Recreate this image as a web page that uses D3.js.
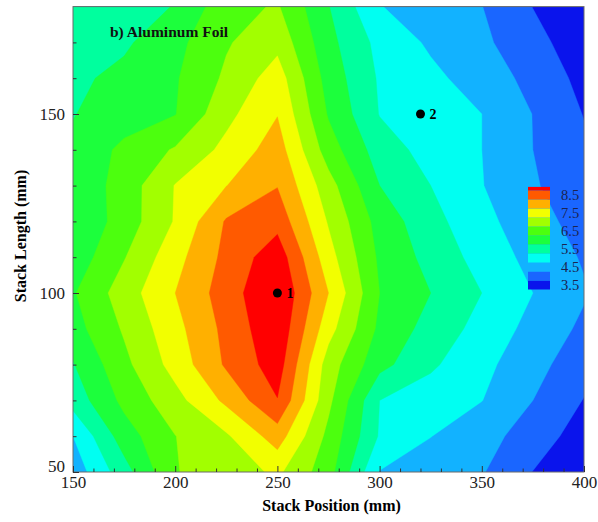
<!DOCTYPE html>
<html>
<head>
<meta charset="utf-8">
<script src="https://cdn.jsdelivr.net/npm/d3@7"></script>
<style>
  body { margin: 0; background: #fff; }
  svg { display: block; }
  text { font-family: "Liberation Serif", "Times New Roman", serif; }
</style>
</head>
<body>
<svg id="chart" width="598" height="522"></svg>
<script>
// Measurement grid: stack position (x, mm) and stack length (y, mm).
const xGrid = [150, 175, 200, 225, 250, 275, 300, 325, 350, 375, 400];
const yGrid = [50, 60, 70, 80, 90, 100, 110, 120, 130, 140, 150, 160, 170, 180];

// Values, one row per stack length in yGrid.
const heat = [
  [4.20, 5.29, 6.48, 6.70, 7.10, 6.20, 4.48, 4.25, 4.04, 3.49, 3.00], // 50
  [4.50, 5.76, 6.49, 6.93, 7.74, 6.36, 4.95, 4.51, 4.18, 3.78, 3.25], // 60
  [5.20, 6.13, 6.82, 7.61, 8.48, 6.62, 5.00, 4.75, 4.51, 4.00, 3.48], // 70
  [5.47, 6.37, 7.19, 8.07, 8.75, 6.75, 5.66, 5.08, 4.64, 4.17, 3.70], // 80
  [5.80, 6.56, 7.34, 8.14, 8.90, 7.19, 5.89, 5.31, 4.83, 4.34, 3.90], // 90
  [5.95, 6.75, 7.50, 8.25, 9.00, 7.50, 6.00, 5.50, 5.00, 4.50, 4.05], // 100
  [5.69, 6.47, 7.32, 8.14, 8.80, 7.20, 5.91, 5.33, 4.81, 4.34, 3.95], // 110
  [5.55, 6.22, 7.04, 8.05, 8.33, 6.95, 5.80, 5.17, 4.65, 4.20, 3.80], // 120
  [5.60, 6.22, 7.02, 7.49, 7.98, 6.70, 5.50, 5.00, 4.52, 4.05, 3.70], // 130
  [5.60, 6.12, 6.55, 7.14, 7.74, 6.25, 5.25, 4.81, 4.50, 4.00, 3.60], // 140
  [5.48, 5.75, 5.98, 6.86, 7.48, 5.95, 4.98, 4.74, 4.50, 3.99, 3.48], // 150
  [5.40, 5.63, 5.95, 6.59, 7.25, 5.79, 4.94, 4.62, 4.27, 3.85, 3.35], // 160
  [5.25, 5.42, 5.85, 6.45, 6.85, 5.65, 4.85, 4.42, 4.10, 3.67, 3.20], // 170
  [5.10, 5.30, 5.52, 6.32, 6.55, 5.52, 4.52, 4.25, 4.01, 3.49, 3.00]  // 180
];

// Contour levels and the colour of each band (lowest band first).
const levels = [3.5, 4.0, 4.5, 5.0, 5.5, 6.0, 6.5, 7.0, 7.5, 8.0, 8.5];
const bandColors = ["#0a14ec", "#1a66ff", "#12b2ff", "#00fff2", "#00ff9e", "#1cff3c",
                    "#4cff0e", "#a2ff00", "#f2ff00", "#ffb000", "#ff5a00", "#ff0000"];
const legendLabels = [3.5, 4.5, 5.5, 6.5, 7.5, 8.5];

// Axis ticks.
const xMajor = [150, 200, 250, 300, 350, 400];
const xMinor = [160, 170, 180, 190, 210, 220, 230, 240, 260, 270, 280, 290,
                310, 320, 330, 340, 360, 370, 380, 390];
const yMajor = [50, 100, 150];
const yMinor = [60, 70, 80, 90, 110, 120, 130, 140, 160, 170];

// Marked points.
const pointX = [250, 320];
const pointY = [100, 150];
const pointNames = ["1", "2"];

const svg = d3.select("#chart");

// Plot frame in pixels.
const plotLeft = 73, plotRight = 584, plotTop = 6.6, plotBottom = 472;

const x = d3.scaleLinear().domain([150, 400]).range([plotLeft, plotRight]);
const y = d3.scaleLinear().domain([50, 180]).range([plotBottom, plotTop]);

// d3.contours places sample i at i + 0.5, so map grid coordinates through scales.
const nx = xGrid.length, ny = yGrid.length;
const gx = d3.scaleLinear().domain([0.5, nx - 0.5]).range([x(xGrid[0]), x(xGrid[nx - 1])]);
const gy = d3.scaleLinear().domain([0.5, ny - 0.5]).range([y(yGrid[0]), y(yGrid[ny - 1])]);

const color = d3.scaleThreshold().domain(levels).range(bandColors);

const flat = heat.flat();
const contours = d3.contours().size([nx, ny]).thresholds(levels)(flat);

const proj = d3.geoTransform({
  point: function(px, py) { this.stream.point(gx(px), gy(py)); }
});
const path = d3.geoPath(proj);

svg.append("defs").append("clipPath").attr("id", "plotClip")
  .append("rect")
  .attr("x", plotLeft).attr("y", plotTop)
  .attr("width", plotRight - plotLeft).attr("height", plotBottom - plotTop);

const body = svg.append("g").attr("clip-path", "url(#plotClip)");

// Lowest band underneath everything.
body.append("rect")
  .attr("x", plotLeft).attr("y", plotTop)
  .attr("width", plotRight - plotLeft).attr("height", plotBottom - plotTop)
  .attr("fill", bandColors[0]);

body.selectAll("path.band")
  .data(contours)
  .join("path")
  .attr("class", "band")
  .attr("d", path)
  .attr("fill", d => color(d.value))
  .attr("stroke", d => color(d.value))
  .attr("stroke-width", 0.4);

// Frame.
svg.append("rect")
  .attr("x", plotLeft).attr("y", plotTop)
  .attr("width", plotRight - plotLeft).attr("height", plotBottom - plotTop)
  .attr("fill", "none")
  .attr("stroke", "#6a6a6a")
  .attr("stroke-width", 1);

// Axes, ticks pointing inward.
svg.append("g").attr("transform", `translate(0,${plotBottom})`)
  .call(d3.axisBottom(x).tickValues(xMajor).tickSize(-6).tickPadding(4).tickFormat(d3.format("d")));
svg.append("g").attr("transform", `translate(0,${plotBottom})`)
  .call(d3.axisBottom(x).tickValues(xMinor).tickSize(-3.5).tickFormat(""));
const yAxis = svg.append("g").attr("transform", `translate(${plotLeft},0)`)
  .call(d3.axisLeft(y).tickValues(yMajor).tickSize(-6).tickPadding(8).tickFormat(d3.format("d")));
svg.append("g").attr("transform", `translate(${plotLeft},0)`)
  .call(d3.axisLeft(y).tickValues(yMinor).tickSize(-3.5).tickFormat(""));

svg.selectAll(".domain").remove();
svg.selectAll(".tick line").attr("stroke", "#333");
svg.selectAll(".tick text")
  .attr("font-family", "Liberation Serif, Times New Roman, serif")
  .attr("font-size", 17)
  .attr("fill", "#222");

// The lowest y label sits just above the first x label, as in the figure.
yAxis.selectAll(".tick text").filter(d => d === 50).attr("dy", "-0.05em");

// Axis titles.
svg.append("text")
  .attr("x", x(275) + 3).attr("y", 511)
  .attr("text-anchor", "middle")
  .attr("font-size", 16).attr("font-weight", "bold")
  .text("Stack Position (mm)");

svg.append("text")
  .attr("transform", "translate(26,236) rotate(-90)")
  .attr("text-anchor", "middle")
  .attr("font-size", 16).attr("font-weight", "bold")
  .text("Stack Length (mm)");

// Panel label.
svg.append("text")
  .attr("x", 110).attr("y", 37)
  .attr("font-size", 15.5).attr("font-weight", "bold")
  .attr("fill", "#111")
  .text("b) Aluminum Foil");

// Marked points.
const marks = pointX.map((d, i) => ({x: d, y: pointY[i], name: pointNames[i]}));

svg.selectAll("circle.pt")
  .data(marks)
  .join("circle")
  .attr("class", "pt")
  .attr("cx", d => x(d.x)).attr("cy", d => y(d.y))
  .attr("r", 4.5).attr("fill", "#000");

svg.selectAll("text.pt")
  .data(marks)
  .join("text")
  .attr("class", "pt")
  .attr("x", d => x(d.x) + 9).attr("y", d => y(d.y))
  .attr("dy", "0.35em")
  .attr("font-size", 14).attr("font-weight", "bold")
  .text(d => d.name);

// Colour legend.
const legendY = d3.scaleLinear().domain([3.25, 8.25]).range([285, 195]);
const legendBands = bandColors.map((c, i) => ({
  lo: i === 0 ? 3.0 : levels[i - 1],
  hi: i === bandColors.length - 1 ? 8.7 : levels[i],
  color: c
}));

const legend = svg.append("g");
legend.selectAll("rect")
  .data(legendBands)
  .join("rect")
  .attr("x", 528).attr("width", 22)
  .attr("y", d => legendY(d.hi))
  .attr("height", d => legendY(d.lo) - legendY(d.hi))
  .attr("fill", d => d.color);

legend.selectAll("text")
  .data(legendLabels)
  .join("text")
  .attr("x", 561)
  .attr("y", d => legendY(d - 0.25))
  .attr("dy", "0.35em")
  .attr("font-size", 14.5)
  .attr("fill", "#1c2450")
  .text(d => d3.format(".1f")(d));
</script>
</body>
</html>
